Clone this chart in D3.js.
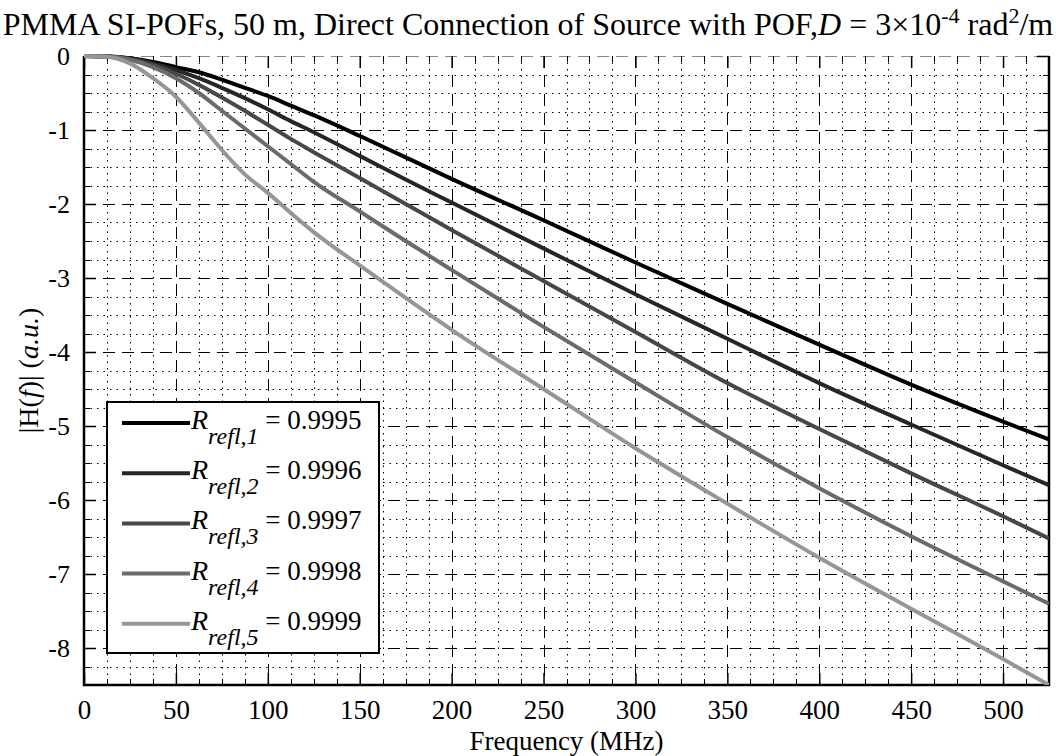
<!DOCTYPE html>
<html>
<head>
<meta charset="utf-8">
<script src="https://cdn.jsdelivr.net/npm/d3@7"></script>
<style>
  body { margin: 0; background: #ffffff; }
  svg { display: block; font-family: "Liberation Serif", "Times New Roman", serif; }
</style>
</head>
<body>
<div id="chart"></div>
<script>
// frequency samples (MHz) shared by all curves
const freqs   = [0, 12.5, 25, 37.5, 50, 62.5, 75, 87.5, 100, 112.5, 125, 150, 175, 200, 250, 300, 350, 400, 450, 500, 525];

// |H(f)|, one array per reflection coefficient
const hRefl1  = [0, -0.005, -0.03, -0.08, -0.15, -0.22, -0.32, -0.43, -0.54, -0.67, -0.8, -1.08, -1.37, -1.66, -2.22, -2.79, -3.35, -3.9, -4.44, -4.94, -5.18];
const hRefl2  = [0, -0.006, -0.035, -0.1, -0.19, -0.3, -0.43, -0.57, -0.72, -0.88, -1.03, -1.35, -1.67, -1.98, -2.6, -3.22, -3.82, -4.42, -4.98, -5.53, -5.8];
const hRefl3  = [0, -0.007, -0.04, -0.12, -0.24, -0.39, -0.56, -0.74, -0.93, -1.12, -1.3, -1.65, -2.0, -2.35, -3.04, -3.73, -4.42, -5.04, -5.64, -6.22, -6.52];
const hRefl4  = [0, -0.008, -0.05, -0.15, -0.3, -0.5, -0.74, -0.98, -1.22, -1.46, -1.7, -2.1, -2.5, -2.89, -3.66, -4.41, -5.15, -5.84, -6.49, -7.1, -7.4];
const hRefl5  = [0, -0.01, -0.1, -0.3, -0.55, -0.9, -1.27, -1.6, -1.85, -2.12, -2.38, -2.83, -3.27, -3.7, -4.5, -5.3, -6.05, -6.78, -7.47, -8.15, -8.5];

const reflVals   = ["0.9995", "0.9996", "0.9997", "0.9998", "0.9999"];
const reflColors = ["#000000", "#262626", "#474747", "#6b6b6b", "#969696"];

const xTicks  = [0, 50, 100, 150, 200, 250, 300, 350, 400, 450, 500];
const yTicks  = [0, -1, -2, -3, -4, -5, -6, -7, -8];

const W = 1056, H = 756;
const plot = { left: 84, right: 1049, top: 56, bottom: 685 };

const xScale = d3.scaleLinear().domain([0, 525]).range([plot.left, plot.right]);
const yScale = d3.scaleLinear().domain([-8.5, 0]).range([plot.bottom, plot.top]);

const svg = d3.select("#chart").append("svg")
    .attr("width", W)
    .attr("height", H);

// minor grid (dotted), every 12.5 MHz and 0.25 a.u.
const xMinor = d3.range(0, 525.01, 12.5).filter(v => v % 50 !== 0);
const yMinor = d3.range(-8.5, 0.01, 0.25).filter(v => v % 1 !== 0);

const gridG = svg.append("g").attr("class", "grid");

gridG.selectAll(".xminor").data(xMinor).enter().append("line")
    .attr("x1", d => Math.round(xScale(d)) + 0.5).attr("x2", d => Math.round(xScale(d)) + 0.5)
    .attr("y1", plot.top).attr("y2", plot.bottom)
    .attr("stroke", "#000").attr("stroke-width", 1).attr("stroke-dasharray", "1.5,5");

gridG.selectAll(".yminor").data(yMinor).enter().append("line")
    .attr("x1", plot.left).attr("x2", plot.right)
    .attr("y1", d => Math.round(yScale(d)) + 0.5).attr("y2", d => Math.round(yScale(d)) + 0.5)
    .attr("stroke", "#000").attr("stroke-width", 1).attr("stroke-dasharray", "1.5,5");

// major grid (dashed)
gridG.selectAll(".xmajor").data(xTicks.filter(d => d > 0)).enter().append("line")
    .attr("x1", d => Math.round(xScale(d)) + 0.5).attr("x2", d => Math.round(xScale(d)) + 0.5)
    .attr("y1", plot.top).attr("y2", plot.bottom)
    .attr("stroke", "#000").attr("stroke-width", 1).attr("stroke-dasharray", "12,7");

gridG.selectAll(".ymajor").data(yTicks).enter().append("line")
    .attr("x1", plot.left).attr("x2", plot.right)
    .attr("y1", d => Math.round(yScale(d)) + 0.5).attr("y2", d => Math.round(yScale(d)) + 0.5)
    .attr("stroke", d => d === 0 ? "#888" : "#000")
    .attr("stroke-width", 1).attr("stroke-dasharray", "12,7");

// axes: ticks point inwards, labels drawn by d3 axis
const tickLen = 12, minorLen = 6;

const xAxisB = d3.axisBottom(xScale).tickValues(xTicks).tickSize(-tickLen).tickPadding(34).tickFormat(d => String(d));
const xAxisT = d3.axisTop(xScale).tickValues(xTicks).tickSize(-tickLen).tickFormat("");
const yAxisL = d3.axisLeft(yScale).tickValues(yTicks).tickSize(-tickLen).tickPadding(14).tickFormat(d => String(d));
const yAxisR = d3.axisRight(yScale).tickValues(yTicks).tickSize(-tickLen).tickFormat("");

function styleAxis(g, size){
    g.select(".domain").remove();
    g.selectAll(".tick line").attr("stroke", "#000").attr("stroke-width", 1.5);
    g.selectAll(".tick text").attr("fill", "#000").style("font-size", size + "px")
        .style("font-family", "'Liberation Serif', 'Times New Roman', serif");
}

svg.append("g").attr("transform", "translate(0," + plot.bottom + ")").call(xAxisB).call(styleAxis, 27)
    .selectAll(".tick text").attr("dy", "0");
svg.append("g").attr("transform", "translate(0," + plot.top + ")").call(xAxisT).call(styleAxis, 27);
svg.append("g").attr("transform", "translate(" + plot.left + ",0)").call(yAxisL).call(styleAxis, 26)
    .selectAll(".tick text").attr("dy", "0.34em");
svg.append("g").attr("transform", "translate(" + plot.right + ",0)").call(yAxisR).call(styleAxis, 26);

// minor ticks
const minorG = svg.append("g").attr("stroke", "#000").attr("stroke-width", 1);
xMinor.forEach(v => {
    const x = Math.round(xScale(v)) + 0.5;
    minorG.append("line").attr("x1", x).attr("x2", x).attr("y1", plot.bottom).attr("y2", plot.bottom - minorLen);
    minorG.append("line").attr("x1", x).attr("x2", x).attr("y1", plot.top).attr("y2", plot.top + minorLen);
});
yMinor.forEach(v => {
    const y = Math.round(yScale(v)) + 0.5;
    minorG.append("line").attr("x1", plot.left).attr("x2", plot.left + minorLen).attr("y1", y).attr("y2", y);
    minorG.append("line").attr("x1", plot.right).attr("x2", plot.right - minorLen).attr("y1", y).attr("y2", y);
});

// axis box (top edge is left as the dashed 0 grid line)
svg.append("path")
    .attr("d", "M" + plot.left + "," + plot.top + " V" + plot.bottom + " H" + plot.right + " V" + plot.top)
    .attr("fill", "none").attr("stroke", "#000").attr("stroke-width", 2.5);

// curves
const series = [hRefl1, hRefl2, hRefl3, hRefl4, hRefl5];
const lineGen = d3.line()
    .x((d, i) => xScale(freqs[i]))
    .y(d => yScale(d))
    .curve(d3.curveMonotoneX);

svg.append("defs").append("clipPath").attr("id", "plotClip")
    .append("rect").attr("x", plot.left).attr("y", plot.top - 4)
    .attr("width", plot.right - plot.left).attr("height", plot.bottom - plot.top + 4);

svg.append("g").attr("clip-path", "url(#plotClip)")
    .selectAll("path.curve")
    .data(series)
    .enter()
        .append("path")
            .attr("class", "curve")
            .attr("d", lineGen)
            .attr("fill", "none")
            .attr("stroke", (d, i) => reflColors[i])
            .attr("stroke-width", 4);

// legend
const leg = { x: 107, y: 402, w: 272, h: 251, rowH: 50.2 };
const legG = svg.append("g").attr("class", "legend");
legG.append("rect")
    .attr("x", leg.x).attr("y", leg.y).attr("width", leg.w).attr("height", leg.h)
    .attr("fill", "#fff").attr("stroke", "#000").attr("stroke-width", 2);

const legRows = legG.selectAll("g.row").data(reflVals).enter().append("g")
    .attr("class", "row")
    .attr("transform", (d, i) => "translate(0," + (leg.y + 21 + i * leg.rowH) + ")");

legRows.append("line")
    .attr("x1", 122).attr("x2", 190).attr("y1", 0).attr("y2", 0)
    .attr("stroke", (d, i) => reflColors[i]).attr("stroke-width", 4);

const legTxt = legRows.append("text").attr("x", 191).attr("y", 6).attr("fill", "#000");
legTxt.append("tspan").text("R").style("font-style", "italic").style("font-size", "28px");
legTxt.append("tspan").attr("dy", 15).text((d, i) => "refl," + (i + 1))
    .style("font-style", "italic").style("font-size", "24px");
legTxt.append("tspan").attr("dy", -15).text(d => " = " + d).style("font-size", "27px");

// title
const title = svg.append("text")
    .attr("x", W / 2).attr("y", 34.5)
    .attr("text-anchor", "middle")
    .style("font-size", "32px").attr("fill", "#000");
title.append("tspan").text("PMMA SI-POFs, 50 m, Direct Connection of Source with POF,");
title.append("tspan").text("D").style("font-style", "italic");
title.append("tspan").text(" = 3\u00d710");
title.append("tspan").attr("dy", -12).style("font-size", "22px").text("-4");
title.append("tspan").attr("dy", 12).text(" rad");
title.append("tspan").attr("dy", -12).style("font-size", "22px").text("2");
title.append("tspan").attr("dy", 12).text("/m");

// axis labels
svg.append("text")
    .attr("x", (plot.left + plot.right) / 2).attr("y", 750)
    .attr("text-anchor", "middle").style("font-size", "27px").attr("fill", "#000")
    .text("Frequency (MHz)");

const yLab = svg.append("text")
    .attr("transform", "translate(38," + ((plot.top + plot.bottom) / 2) + ") rotate(-90)")
    .attr("text-anchor", "middle").style("font-size", "28px").attr("fill", "#000");
yLab.append("tspan").text("|H(");
yLab.append("tspan").text("f").style("font-style", "italic");
yLab.append("tspan").text(")| (");
yLab.append("tspan").text("a.u.").style("font-style", "italic");
yLab.append("tspan").text(")");
</script>
</body>
</html>
